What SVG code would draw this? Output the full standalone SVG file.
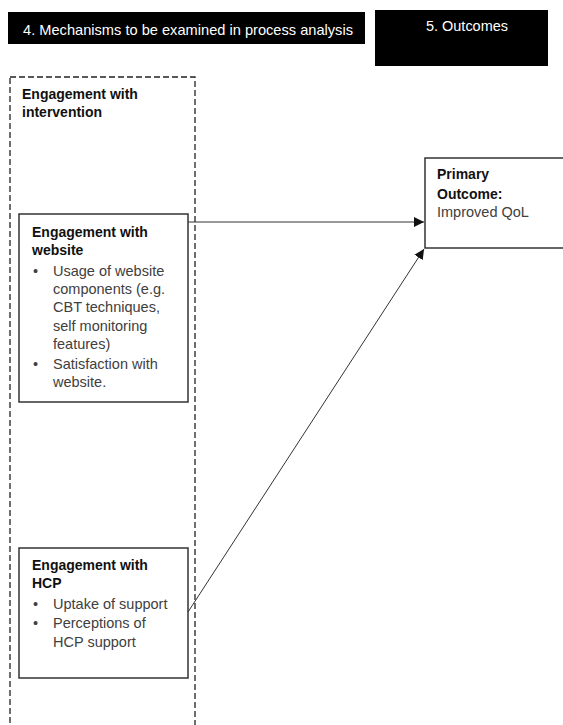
<svg xmlns="http://www.w3.org/2000/svg" width="563" height="725" viewBox="0 0 563 725">
<defs>
<style>
text{font-family:"Liberation Sans",Arial,sans-serif;font-size:14.5px}
.h{fill:#fff;font-size:15px}
.b{font-weight:bold;fill:#111;font-size:14px}
.t{fill:#404040}
.box{fill:#fff;stroke:#333;stroke-width:1.5}
.ln{stroke:#333;stroke-width:1;fill:none}
</style>
<marker id="ah" viewBox="0 0 10 10" refX="10" refY="5" markerWidth="10" markerHeight="10" markerUnits="userSpaceOnUse" orient="auto">
<path d="M0,0 L10,5 L0,10 z" fill="#111"/>
</marker>
</defs>
<rect width="563" height="725" fill="#fff"/>
<g id="header4">
<rect x="8" y="12" width="357" height="32" fill="#000"/>
<text class="h" x="188" y="35" text-anchor="middle" textLength="330" lengthAdjust="spacingAndGlyphs">4. Mechanisms to be examined in process analysis</text>
</g>
<g id="header5">
<rect x="375" y="10" width="173" height="56" fill="#000"/>
<text class="h" x="467" y="31" text-anchor="middle" textLength="82" lengthAdjust="spacingAndGlyphs">5. Outcomes</text>
</g>
<g id="intervention">
<rect x="10" y="77" width="185" height="660" fill="none" stroke="#222" stroke-width="1.3" stroke-dasharray="6,3"/>
<text class="b" x="22" y="99">Engagement with</text>
<text class="b" x="22" y="117">intervention</text>
</g>
<g id="website">
<rect class="box" x="19" y="214" width="169" height="188"/>
<text class="b" x="32" y="237">Engagement with</text>
<text class="b" x="32" y="255">website</text>
<text class="t" x="33" y="276">•</text><text class="t" x="53" y="276">Usage of website</text>
<text class="t" x="53" y="294">components (e.g.</text>
<text class="t" x="53" y="312">CBT techniques,</text>
<text class="t" x="53" y="331">self monitoring</text>
<text class="t" x="53" y="349">features)</text>
<text class="t" x="33" y="369">•</text><text class="t" x="53" y="369">Satisfaction with</text>
<text class="t" x="53" y="387">website.</text>
</g>
<g id="hcp">
<rect class="box" x="19" y="548" width="169" height="130"/>
<text class="b" x="32" y="570">Engagement with</text>
<text class="b" x="32" y="588">HCP</text>
<text class="t" x="33" y="609">•</text><text class="t" x="53" y="609">Uptake of support</text>
<text class="t" x="33" y="628">•</text><text class="t" x="53" y="628">Perceptions of</text>
<text class="t" x="53" y="647">HCP support</text>
</g>
<g id="outcome">
<rect class="box" x="425" y="158" width="145" height="90"/>
<text class="b" x="437" y="179">Primary</text>
<text class="b" x="437" y="199">Outcome:</text>
<text class="t" x="437" y="217">Improved QoL</text>
</g>
<g id="connectors">
<line class="ln" x1="188" y1="222" x2="424" y2="222" marker-end="url(#ah)"/>
<line class="ln" x1="188" y1="612" x2="424" y2="249" marker-end="url(#ah)"/>
</g>
</svg>
